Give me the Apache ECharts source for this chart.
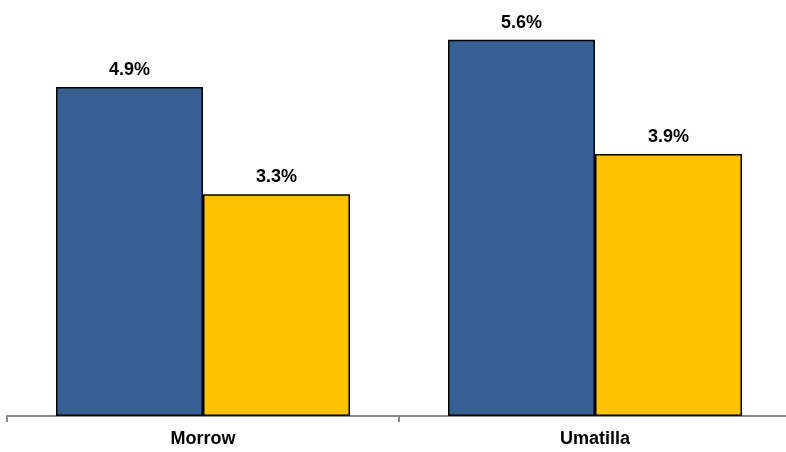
<!DOCTYPE html>
<html><head><meta charset="utf-8">
<script src="https://cdn.jsdelivr.net/npm/echarts@6/dist/echarts.min.js"></script>
<style>html,body{margin:0;padding:0;background:#fff}#c{width:786px;height:452px}</style>
</head><body><div id="c"></div>
<script>
const categories = ['Morrow', 'Umatilla'];
const seriesA = [4.9, 5.6];
const seriesB = [3.3, 3.9];
const chart = echarts.init(document.getElementById('c'), null, {renderer: 'canvas'});
const lbl = {show: true, position: 'top', distance: 8, formatter: p => p.value.toFixed(1) + '%',
  fontFamily: 'Liberation Sans, Arial, sans-serif', fontWeight: 'bold', fontSize: 18, color: '#000'};
chart.setOption({
  animation: false,
  grid: {left: 7, top: 13, width: 784, height: 403, outerBoundsMode: 'none', containLabel: false},
  xAxis: {type: 'category', data: categories,
    axisLine: {lineStyle: {color: '#898989', width: 2}},
    axisTick: {show: true, length: 6, lineStyle: {color: '#898989', width: 2}},
    axisLabel: {fontFamily: 'Liberation Sans, Arial, sans-serif', fontWeight: 'bold', fontSize: 18, color: '#000', margin: 14}},
  yAxis: {type: 'value', min: 0, max: 6, show: false, splitLine: {show: false}},
  series: [
    {type: 'bar', data: seriesA, barGap: '0%', barCategoryGap: '25%',
     itemStyle: {color: '#376092', borderColor: '#000', borderWidth: 1.5}, label: lbl},
    {type: 'bar', data: seriesB, barGap: '0%', barCategoryGap: '25%',
     itemStyle: {color: '#FFC000', borderColor: '#000', borderWidth: 1.5}, label: lbl}
  ]
});
</script></body></html>
